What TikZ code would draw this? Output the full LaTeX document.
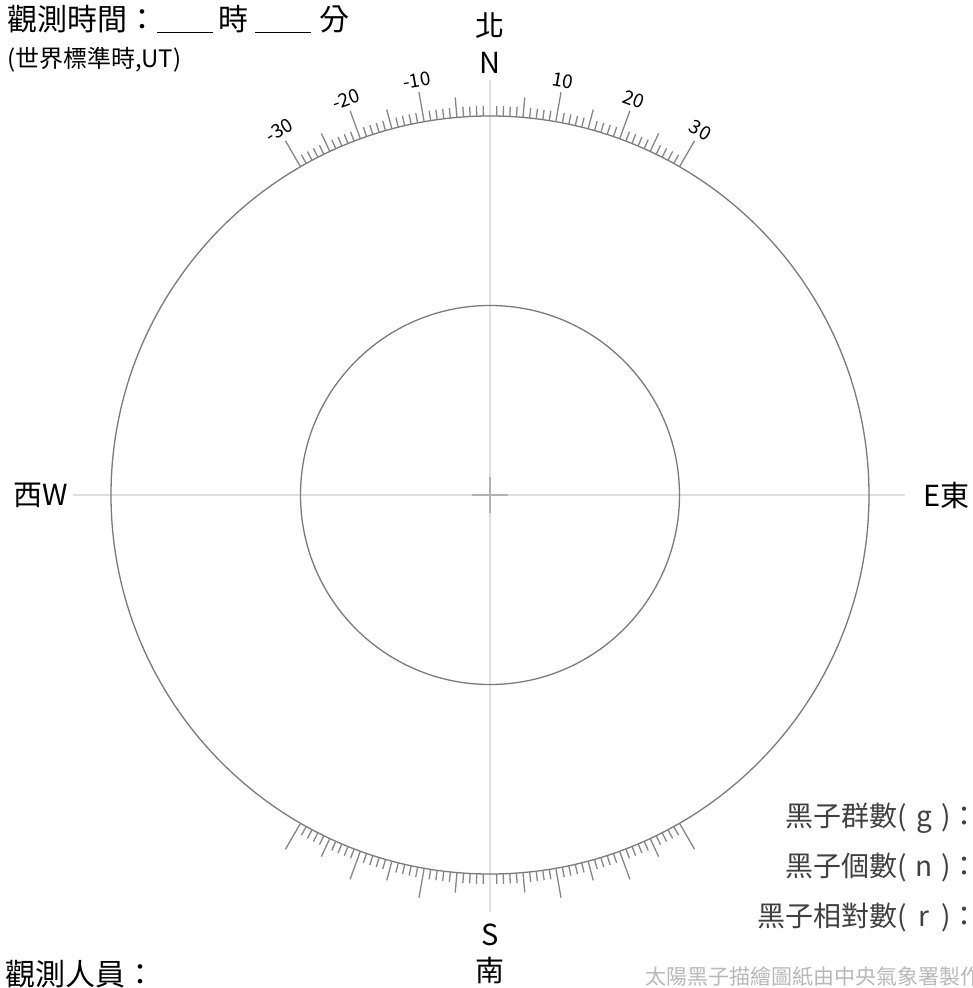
\documentclass[tikz,border=0pt]{standalone}
\usepackage{fontspec}
\setmainfont{Noto Sans CJK TC}
\newcommand{\fieldtag}[1]{\makebox[1.9em]{(\hfill#1\hfill)}}

\begin{document}
\begin{tikzpicture}[x=1pt,y=1pt]
        \tikzstyle{axis}=[draw=black!12,line width=1.5pt]
        \tikzstyle{cross}=[draw=black!30,line width=1.5pt]
        \tikzstyle{disc}=[draw=black!52,line width=1.3pt]
        \tikzstyle{tick}=[draw=black!48,line width=1.3pt]
        \tikzstyle{ticklabel}=[font=\fontsize{19}{19}\selectfont,inner sep=0pt]
        \tikzstyle{compass}=[font=\fontsize{29}{29}\selectfont,inner sep=0pt]
        \tikzstyle{count}=[font=\fontsize{28}{28}\selectfont,black!75,anchor=base east,inner sep=0pt]
        \useasboundingbox (-490,-493) rectangle (482,495);
        % axes and centre mark
        \coordinate (axisN) at (0,415);
        \coordinate (axisS) at (0,-417);
        \coordinate (axisW) at (-417,0);
        \coordinate (axisE) at (415,0);
        \coordinate (centre) at (0,0);
        \path [axis] (axisN) -- (axisS);
        \path [axis] (axisW) -- (axisE);
        \path [cross] ([yshift=18pt]centre) -- ([yshift=-18pt]centre);
        \path [cross] ([xshift=-18pt]centre) -- ([xshift=18pt]centre);
        \path [disc] (centre) circle (379);
        \path [disc] (centre) circle (189.5);
        % degree scale, top and bottom
        \foreach \a in {-30,...,-1,1,2,...,30} {
            \pgfmathsetmacro\len{ifthenelse(mod(abs(\a),10)==0,30,ifthenelse(mod(abs(\a),5)==0,20,10))}
            \pgfmathsetmacro\rr{379+\len}
            \path [tick] (90-\a:379) -- (90-\a:\rr);
            \path [tick] (270+\a:379) -- (270+\a:\rr);
        }
        \foreach \a in {-30,-20,-10,10,20,30}
            \node [ticklabel,rotate=-\a] (deg\a) at (90-\a:421) {\a};
        % compass points
        \node [compass] (northcn) at (0,469.5) {北};
        \node [compass] (north) at (0,432.5) {N};
        \node [compass] (south) at (0,-440) {S};
        \node [compass] (southcn) at (0,-475) {南};
        \node [compass,anchor=east] (west) at (-422,0) {西W};
        \node [compass,anchor=west] (east) at (433,0) {E東};
        % form fields
        \node [anchor=base west,inner sep=0pt,font=\fontsize{30}{30}\selectfont] (timeline) at (-483,464)
            {觀測時間：\rule[-2.5pt]{56pt}{1.5pt}\hspace{5pt}時\hspace{7pt}\rule[-2.5pt]{56pt}{1.5pt}\hspace{8pt}分};
        \node [anchor=base west,inner sep=0pt,font=\fontsize{24}{24}\selectfont] (utnote) at (-483,427.5) {(世界標準時,UT)};
        \node [anchor=base west,inner sep=0pt,font=\fontsize{30}{30}\selectfont] (observer) at (-485,-490) {觀測人員：};
        \node [count] (groups) at (489,-331) {黑子群數\fieldtag{g}：};
        \node [count] (spots) at (489,-381) {黑子個數\fieldtag{n}：};
        \node [count] (relnum) at (489,-431) {黑子相對數\fieldtag{r}：};
        \node [anchor=base west,inner sep=0pt,black!28,font=\fontsize{21}{21}\selectfont] (credit) at (155,-489) {太陽黑子描繪圖紙由中央氣象署製作};
\end{tikzpicture}
\end{document}
